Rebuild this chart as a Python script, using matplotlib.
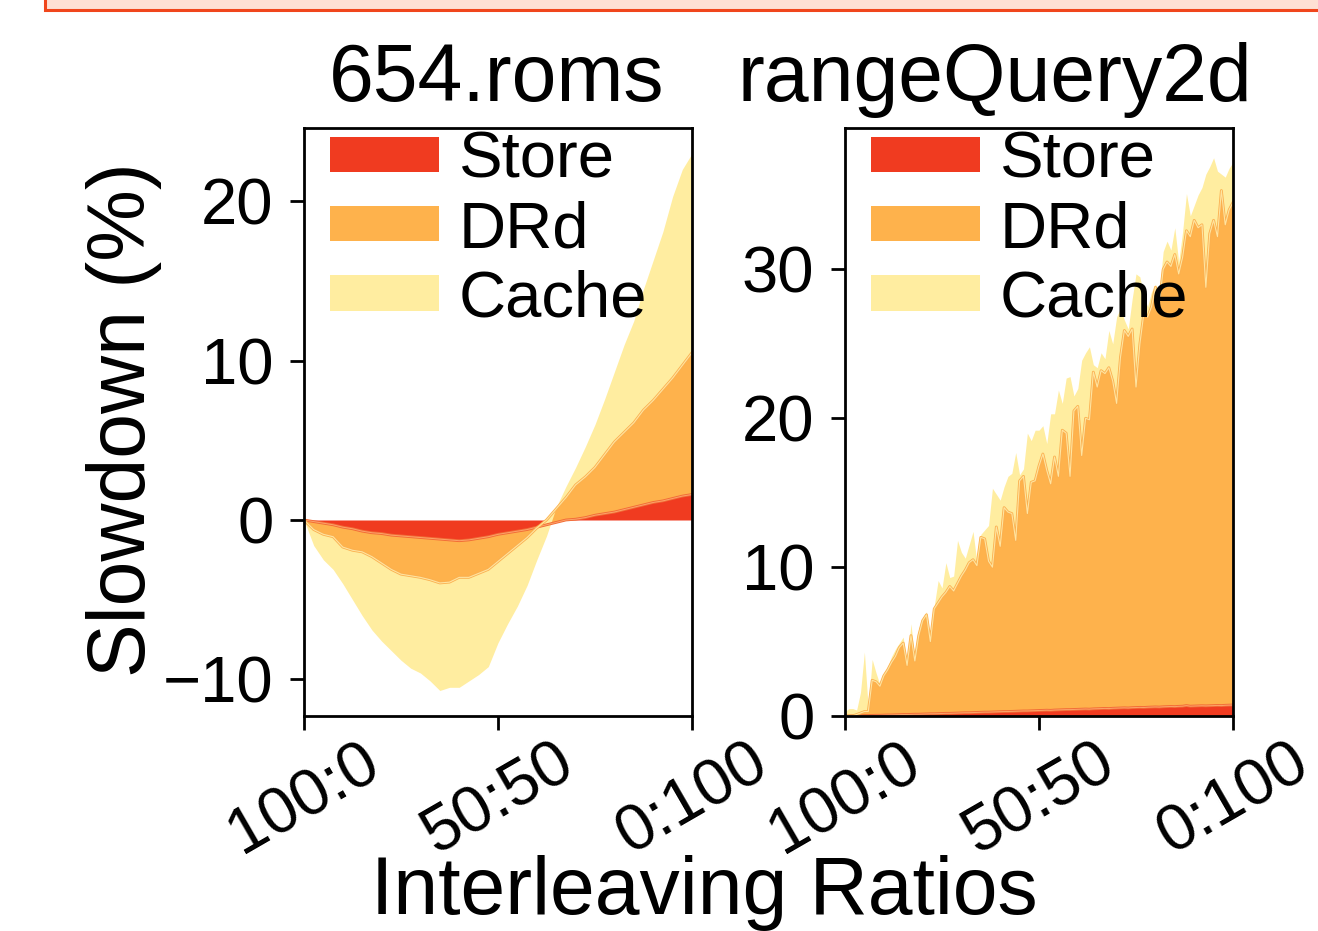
import numpy as np
import matplotlib.pyplot as plt
from matplotlib.patches import Rectangle

plt.rcParams['font.family'] = ['Liberation Sans', 'DejaVu Sans']

# ---- data (stack boundaries, % slowdown) ----
ratio_ticks = [0, 50, 100]
ratio_labels = ['100:0', '50:50', '0:100']
layers = ['Store', 'DRd', 'Cache']
colors = ['#f03b20', '#feb24c', '#ffeda0']

# 654.roms, sampled every 2.5 % of the ratio range
roms_x = np.arange(0, 100.1, 2.5)
roms_store = [0.0, -0.1, -0.2, -0.3, -0.45, -0.55, -0.7, -0.8, -0.85, -0.95,
              -1.0, -1.05, -1.1, -1.15, -1.2, -1.25, -1.3, -1.25, -1.15, -1.05,
              -0.9, -0.8, -0.7, -0.6, -0.45, -0.3, -0.15, 0.0, 0.05, 0.15,
              0.3, 0.4, 0.5, 0.65, 0.8, 0.95, 1.1, 1.2, 1.35, 1.5, 1.6]
roms_drd_top = [0.0, -0.6, -0.9, -1.05, -1.7, -1.9, -2.0, -2.3, -2.7, -3.1,
                -3.4, -3.5, -3.6, -3.75, -3.95, -3.9, -3.6, -3.6, -3.35, -3.1,
                -2.6, -2.1, -1.6, -1.1, -0.5, 0.0, 0.7, 1.4, 2.2, 2.7,
                3.3, 4.1, 4.9, 5.5, 6.1, 6.9, 7.5, 8.2, 8.9, 9.7, 10.5]
roms_total = [0.0, -1.6, -2.5, -3.1, -4.0, -5.0, -6.0, -6.9, -7.6, -8.2,
              -8.8, -9.3, -9.6, -10.1, -10.7, -10.5, -10.5, -10.1, -9.7, -9.2,
              -7.7, -6.5, -5.4, -4.1, -2.5, -1.0, 0.8, 2.1, 3.3, 4.6,
              6.0, 7.6, 9.3, 11.0, 12.5, 14.5, 16.3, 18.1, 20.3, 22.0, 23.0]

# rangeQuery2d, sampled every 1 %
rq_x = np.arange(0, 101, 1)
rq_store = [0.00, 0.00, 0.01, 0.01, 0.02, 0.03, 0.03, 0.04, 0.05, 0.05,
            0.06, 0.07, 0.07, 0.08, 0.09, 0.10, 0.10, 0.11, 0.12, 0.12,
            0.13, 0.14, 0.15, 0.15, 0.16, 0.17, 0.18, 0.18, 0.19, 0.20,
            0.21, 0.22, 0.22, 0.23, 0.24, 0.25, 0.26, 0.26, 0.27, 0.28,
            0.29, 0.30, 0.30, 0.31, 0.32, 0.33, 0.34, 0.34, 0.35, 0.36,
            0.37, 0.38, 0.39, 0.38, 0.40, 0.41, 0.42, 0.43, 0.43, 0.44,
            0.45, 0.46, 0.47, 0.46, 0.48, 0.49, 0.50, 0.51, 0.50, 0.52,
            0.53, 0.54, 0.55, 0.54, 0.56, 0.57, 0.58, 0.57, 0.59, 0.60,
            0.61, 0.60, 0.62, 0.63, 0.64, 0.63, 0.65, 0.66, 0.70, 0.66,
            0.67, 0.68, 0.69, 0.68, 0.69, 0.70, 0.71, 0.70, 0.72, 0.73, 0.74]
rq_drd_top = [0.0, 0.0, 0.01, 0.1, 0.2, 0.3, 0.3, 2.4, 2.3, 2.0,
              2.7, 3.1, 3.6, 4.0, 4.6, 4.9, 3.4, 5.4, 3.7, 5.4,
              6.4, 6.8, 5.0, 7.2, 7.6, 8.0, 8.3, 8.7, 8.4, 8.9,
              9.4, 9.8, 10.3, 10.5, 10.1, 12.0, 11.9, 10.4, 10.0, 12.7,
              11.4, 14.0, 13.7, 13.6, 11.8, 15.8, 16.1, 13.6, 15.7, 15.8,
              16.8, 17.6, 16.5, 15.6, 17.4, 16.1, 19.2, 19.0, 16.1, 20.5,
              20.8, 17.5, 20.0, 19.9, 23.1, 22.1, 23.2, 23.0, 23.4, 22.5,
              21.0, 24.1, 25.9, 25.5, 26.0, 22.1, 25.0, 27.0, 26.8, 27.5,
              28.8, 27.7, 30.0, 30.5, 30.2, 31.0, 29.7, 30.8, 32.6, 32.2,
              33.3, 32.8, 33.0, 28.8, 32.4, 33.3, 32.2, 35.3, 33.0, 34.0, 34.5]
rq_total = [0.3, 0.5, 0.5, 0.4, 1.6, 4.3, 0.5, 3.8, 2.9, 2.1,
            2.9, 3.3, 4.0, 4.5, 4.9, 5.3, 3.5, 6.2, 3.8, 5.9,
            6.6, 7.0, 5.1, 7.4, 9.1, 8.6, 10.3, 9.3, 9.4, 11.8,
            11.0, 10.6, 11.5, 12.4, 10.3, 12.2, 12.5, 12.8, 15.3, 14.9,
            14.5, 15.4, 16.1, 16.3, 17.7, 16.2, 16.6, 19.0, 18.5, 19.2,
            19.2, 19.5, 18.3, 20.3, 20.3, 21.9, 21.0, 22.7, 22.8, 21.5,
            22.0, 23.9, 24.4, 24.8, 23.6, 23.4, 24.4, 24.0, 25.9, 25.0,
            26.8, 27.4, 26.6, 26.0, 28.0, 29.7, 29.5, 28.2, 27.5, 28.5,
            29.0, 28.5, 31.2, 31.9, 31.3, 32.8, 30.5, 32.5, 35.1, 33.6,
            34.3, 35.0, 35.5, 36.4, 36.9, 37.5, 36.6, 36.4, 36.2, 36.8, 37.2]

W, H = 1318, 931
fig = plt.figure(figsize=(W / 100, H / 100), dpi=100)

# cut-off caption box at the very top
fig.patches.append(Rectangle((45 / W, 1 - 10 / H), 1.0, 0.2, transform=fig.transFigure,
                             facecolor='#fee0d4', edgecolor='#f0461c', lw=2.2))

ax1 = fig.add_axes([304 / W, 1 - 716 / H, 388 / W, 588 / H])
ax2 = fig.add_axes([845 / W, 1 - 716 / H, 388 / W, 588 / H])


def draw(ax, x, store, drd_top, total):
    ax.fill_between(x, 0, store, color=colors[0], lw=0, label=layers[0])
    ax.fill_between(x, store, drd_top, color=colors[1], lw=0, label=layers[1])
    ax.fill_between(x, drd_top, total, color=colors[2], lw=0, label=layers[2])
    # thin double boundary lines between layers
    ax.plot(x, store, color='#f26b35', lw=2.0)
    ax.plot(x, store, color='#fca46a', lw=0.7)
    ax.plot(x, drd_top, color='#fbb04f', lw=2.0)
    ax.plot(x, drd_top, color='#ffe4a0', lw=0.8)
    ax.set_xlim(0, 100)
    ax.set_xticks(ratio_ticks)
    ax.set_xticklabels(ratio_labels, rotation=30, ha='center')
    for s in ax.spines.values():
        s.set_linewidth(2.0)
    ax.tick_params(axis='both', labelsize=47, width=2.0, length=10)
    ax.tick_params(axis='y', pad=12)
    ax.tick_params(axis='x', pad=2)
    leg = ax.legend(loc='upper left', bbox_to_anchor=(0.066, 0.995), frameon=False,
                    fontsize=47, handlelength=1.68, handleheight=0.45,
                    handletextpad=0.3, labelspacing=0.14, borderpad=0, borderaxespad=0)
    return leg


draw(ax1, roms_x, roms_store, roms_drd_top, roms_total)
ax1.set_ylim(-12.3, 24.6)
ax1.set_yticks([-10, 0, 10, 20])

draw(ax2, rq_x, rq_store, rq_drd_top, rq_total)
ax2.set_ylim(0, 39.5)
ax2.set_yticks([0, 10, 20, 30])

fig.text(497 / W, 1 - 101 / H, '654.roms', fontsize=58, ha='center', va='baseline')
fig.text(995 / W, 1 - 101 / H, 'rangeQuery2d', fontsize=58, ha='center', va='baseline')
fig.text(124 / W, 1 - 420 / H, 'Slowdown (%)', fontsize=58, rotation=90,
         ha='center', va='center')
fig.text(704 / W, 1 - 914 / H, 'Interleaving Ratios', fontsize=58, ha='center', va='baseline')

fig.savefig('out.png', dpi=100)
